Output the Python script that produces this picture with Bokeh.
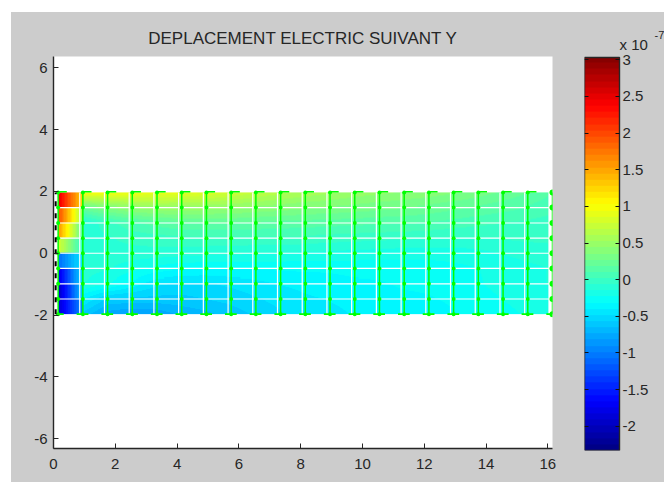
import numpy as np
from bokeh.core.properties import value
from bokeh.embed import file_html
from bokeh.resources import INLINE
from bokeh.layouts import row
from bokeh.models import LinearColorMapper, Range1d, LinearAxis, FixedTicker
from bokeh.plotting import figure

TITLE = "DEPLACEMENT ELECTRIC SUIVANT Y"
axis_x_ticks = [0, 2, 4, 6, 8, 10, 12, 14, 16]
axis_y_ticks = [-6, -4, -2, 0, 2, 4, 6]
bar_ticks = [-2, -1.5, -1, -0.5, 0, 0.5, 1, 1.5, 2, 2.5, 3]
bar_low, bar_high = -2.33, 3.03

# mesh node positions
mesh_x = [0.15 + 0.8 * i for i in range(21)]
mesh_y = [1.97, 1.48, 0.98, 0.49, 0.0, -0.49, -0.99, -1.48, -1.97]

# first column of elements: values (x 1e-7) at the left and right sides, top row first
first_left = [2.5, 2.0, 1.6, 0.8, -1.1, -1.8, -2.0, -1.9]
first_right = [1.2, 0.5, 0.15, -0.05, -0.45, -0.5, -0.6, -0.9]

# node values (x 1e-7) for nodes 1..20 of each mesh row, top row first
row_p200 = [1.05, 1.00, 0.98, 0.95, 0.92, 0.88, 0.80, 0.72, 0.65, 0.60, 0.55, 0.50, 0.47, 0.44, 0.42, 0.38, 0.33, 0.27, 0.20, 0.12]
row_p150 = [0.25, 0.38, 0.46, 0.50, 0.50, 0.48, 0.46, 0.43, 0.40, 0.37, 0.35, 0.33, 0.30, 0.28, 0.25, 0.21, 0.18, 0.14, 0.10, 0.05]
row_p100 = [-0.15, -0.02, 0.08, 0.14, 0.18, 0.19, 0.19, 0.18, 0.16, 0.15, 0.14, 0.13, 0.12, 0.11, 0.10, 0.07, 0.04, 0.02, 0.00, -0.02]
row_p050 = [-0.10, -0.08, -0.04, -0.02, 0.00, 0.00, 0.00, 0.00, 0.00, 0.00, -0.02, -0.03, -0.04, -0.05, -0.06, -0.07, -0.07, -0.06, -0.05, -0.05]
row_000 = [-0.10, -0.10, -0.10, -0.10, -0.11, -0.12, -0.13, -0.14, -0.15, -0.16, -0.17, -0.18, -0.19, -0.20, -0.20, -0.20, -0.18, -0.15, -0.12, -0.10]
row_m050 = [-0.12, -0.14, -0.20, -0.26, -0.30, -0.31, -0.31, -0.31, -0.30, -0.30, -0.30, -0.29, -0.29, -0.28, -0.28, -0.26, -0.24, -0.21, -0.18, -0.15]
row_m100 = [-0.15, -0.22, -0.35, -0.47, -0.50, -0.50, -0.47, -0.44, -0.40, -0.38, -0.36, -0.34, -0.33, -0.31, -0.30, -0.28, -0.25, -0.21, -0.18, -0.15]
row_m150 = [-0.40, -0.58, -0.60, -0.60, -0.60, -0.57, -0.54, -0.50, -0.46, -0.42, -0.40, -0.38, -0.36, -0.34, -0.33, -0.31, -0.28, -0.24, -0.20, -0.17]
row_m200 = [-0.60, -0.78, -0.82, -0.80, -0.72, -0.68, -0.62, -0.56, -0.50, -0.45, -0.43, -0.40, -0.38, -0.36, -0.35, -0.33, -0.30, -0.27, -0.23, -0.20]
node_rows = [row_p200, row_p150, row_p100, row_p050, row_000, row_m050, row_m100, row_m150, row_m200]

GREY = "#cccccc"
GREEN = "#00ff00"
INK = "#262626"
FONT = "Liberation Sans"


def jet(n):
    out = []
    for t in (np.arange(n) + 0.5) / n:
        r = np.clip(1.5 - abs(4 * t - 3), 0, 1)
        g = np.clip(1.5 - abs(4 * t - 2), 0, 1)
        b = np.clip(1.5 - abs(4 * t - 1), 0, 1)
        out.append("#%02x%02x%02x" % (int(r * 255), int(g * 255), int(b * 255)))
    return out


mapper = LinearColorMapper(palette=jet(64), low=bar_low, high=bar_high)

# shade every element from its corner values
nodes = np.array(node_rows)
SX, SY = 24, 15
field = np.zeros((8 * SY, 20 * SX))
u = (np.arange(SX) + 0.5) / SX
w = (np.arange(SY) + 0.5) / SY
for r in range(8):
    for c in range(20):
        if c == 0:
            tl, tr, bl, br = first_left[r], first_right[r], first_left[r], first_right[r]
        else:
            tl, tr, bl, br = nodes[r, c - 1], nodes[r, c], nodes[r + 1, c - 1], nodes[r + 1, c]
        top = tl + (tr - tl) * u
        bot = bl + (br - bl) * u
        cell = np.outer(1 - w, top) + np.outer(w, bot)
        field[(7 - r) * SY:(8 - r) * SY, c * SX:(c + 1) * SX] = cell[::-1]

p = figure(width=559, height=470, output_backend="svg", toolbar_location=None,
           x_range=Range1d(0, 16.15), y_range=Range1d(-6.32, 6.37),
           min_border_left=42, min_border_right=18, min_border_top=44, min_border_bottom=34,
           background_fill_color="white", border_fill_color=GREY, outline_line_color=None,
           margin=(12, 0, 0, 11), frame_align=False)
p.title.text = TITLE
p.title.align = "center"
p.title.text_font = FONT
p.title.text_font_size = "17px"
p.title.text_font_style = "normal"
p.title.text_color = INK
p.title.standoff = 18
p.grid.visible = False

p.image(image=[field], x=mesh_x[0], y=mesh_y[-1], dw=mesh_x[-1] - 0.13 - mesh_x[0],
        dh=mesh_y[0] - mesh_y[-1], color_mapper=mapper)

# white element gaps
p.segment(x0=mesh_x[0], x1=mesh_x[-1], y0=mesh_y[1:-1], y1=mesh_y[1:-1], line_color="white", line_width=1.2)
p.segment(x0=[v - 0.1 for v in mesh_x[1:]], x1=[v - 0.1 for v in mesh_x[1:]], y0=mesh_y[-1], y1=mesh_y[0],
          line_color="white", line_width=1.2)

# green vectors
p.segment(x0=mesh_x, x1=mesh_x, y0=mesh_y[-1], y1=mesh_y[0], line_color=GREEN, line_width=1.5)
xs, ys = np.meshgrid(mesh_x[:-1], mesh_y)
p.scatter(xs.ravel(), ys.ravel(), size=4, color=GREEN, line_width=0)
p.scatter([mesh_x[-1]] * len(mesh_y), mesh_y, size=6, color=GREEN, line_width=0)
p.segment(x0=mesh_x[:-1], x1=[v + 0.28 for v in mesh_x[:-1]], y0=mesh_y[0] + 0.02, y1=mesh_y[0] + 0.02,
          line_color=GREEN, line_width=1.5)
p.segment(x0=[v - 0.2 for v in mesh_x[1:]], x1=[v - 0.05 for v in mesh_x[1:]], y0=mesh_y[-1], y1=mesh_y[-1],
          line_color=GREEN, line_width=1.6)
p.segment(x0=[v + 0.05 for v in mesh_x[:-1]], x1=[v + 0.18 for v in mesh_x[:-1]], y0=mesh_y[-1], y1=mesh_y[-1],
          line_color=GREEN, line_width=1.6)

# black dashes along the left edge
p.line([0.07, 0.07], [mesh_y[-1], mesh_y[0]], line_color="black", line_width=2, line_dash="5 7")

for ax, ticks in ((p.xaxis[0], axis_x_ticks), (p.yaxis[0], axis_y_ticks)):
    ax.ticker = FixedTicker(ticks=ticks)
    ax.major_label_overrides = {t: str(t) for t in ticks}
    ax.minor_tick_line_color = None
    ax.major_tick_in = 5
    ax.major_tick_out = 0
    ax.major_tick_line_color = INK
    ax.major_tick_line_width = 1
    ax.axis_line_color = INK
    ax.axis_line_width = 1.4
    ax.major_label_text_font = FONT
    ax.major_label_text_font_size = "15px"
    ax.major_label_text_color = INK
    ax.major_label_standoff = 6
p.xaxis[0].major_label_standoff = 10

# colour bar: the frame runs past the bar so that the multiplier text fits inside it
bar = figure(width=94, height=470, output_backend="svg", toolbar_location=None,
             x_range=Range1d(0, 80 / 35), y_range=Range1d(bar_low, bar_high + 37 / 73.3),
             min_border_left=14, min_border_right=0, min_border_top=8, min_border_bottom=32,
             border_fill_color=GREY, background_fill_color=GREY, outline_line_color=None,
             x_axis_location=None, y_axis_location=None, margin=(12, 0, 0, 0), frame_align=False)
bar.grid.visible = False
bar.image(image=[np.linspace(bar_low, bar_high, 64).reshape(64, 1)], x=0, y=bar_low, dw=1,
          dh=bar_high - bar_low, color_mapper=mapper)
bar.line([0, 1, 1, 0, 0], [bar_low, bar_low, bar_high, bar_high, bar_low], line_color=INK, line_width=1.4)

right_ax = LinearAxis(ticker=FixedTicker(ticks=bar_ticks), fixed_location=1,
                      major_label_overrides={t: "%g" % t for t in bar_ticks},
                      axis_line_color=None, minor_tick_line_color=None,
                      major_tick_in=4, major_tick_out=0, major_tick_line_color="#111111",
                      major_label_text_font=FONT, major_label_text_font_size="15px",
                      major_label_text_color=INK, major_label_standoff=3)
left_ax = LinearAxis(ticker=FixedTicker(ticks=bar_ticks), fixed_location=0,
                     major_label_text_color=None,
                     axis_line_color=None, minor_tick_line_color=None,
                     major_tick_in=4, major_tick_out=0, major_tick_line_color="#111111",
                     major_label_text_font_size="1px", major_label_standoff=0)
bar.add_layout(right_ax, "right")
bar.add_layout(left_ax, "left")

bar.text(x=[1.0], y=[3.21], text=["x 10"], text_font=value(FONT), text_font_size="15px",
         text_color=INK, text_align="left", text_baseline="middle")
bar.text(x=[2.0], y=[3.34], text=["-7"], text_font=value(FONT), text_font_size="11px",
         text_color=INK, text_align="left", text_baseline="middle")

layout = row(p, bar, spacing=0)
html = file_html(layout, INLINE)
style = ("<style>html,body{margin:0 !important;padding:0;overflow:hidden;background:transparent}"
         "html{background:linear-gradient(to right,#fff 11px,transparent 11px),"
         "linear-gradient(to bottom,#fff 12px,#ccc 12px) !important}</style>")
html = html.replace("<head>", "<head>" + style, 1)
open("out.html", "w").write(html)
